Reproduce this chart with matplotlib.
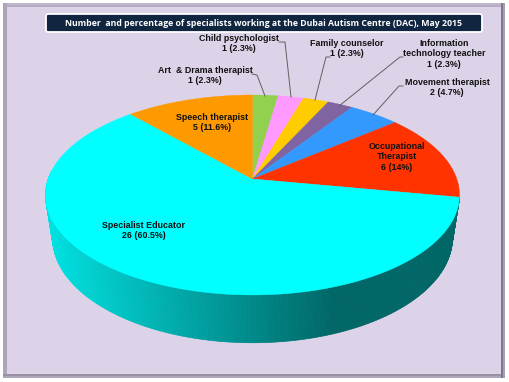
import numpy as np
import matplotlib
matplotlib.use('Agg')
import matplotlib.pyplot as plt
from matplotlib.patches import Rectangle, FancyBboxPatch

title = 'Number  and percentage of specialists working at the Dubai Autism Centre (DAC), May 2015'
names = ['Art  & Drama therapist', 'Child psychologist', 'Family counselor',
         'Information\ntechnology teacher', 'Movement therapist',
         'Occupational\nTherapist', 'Specialist Educator', 'Speech therapist']
counts = [1, 1, 1, 1, 2, 6, 26, 5]
percents = ['2.3%', '2.3%', '2.3%', '2.3%', '4.7%', '14%', '60.5%', '11.6%']
colors = ['#92D050', '#FF99FF', '#FFCC00', '#8064A2', '#3399FF', '#FF3300', '#00FFFF', '#FF9900']

label_pos = [(205, 71), (239, 39), (347, 44), (444, 44), (447, 83), (397, 147), (144, 226), (212, 118)]
leaders = [[(252, 74), (257, 75), (265, 96)],
           [(279, 42), (285, 42), (291, 97)],
           [(330, 57), (326, 57), (315, 100)],
           [(403, 57), (400, 57), (339, 106)],
           [(403, 86), (399, 86), (373, 115)]]

# pie seen in perspective, so the centre sits above the middle of the ellipse
cx, cy = 252.5, 179
a, b, k = 204.3, 97.4, 0.16


def top_xy(t):
    x, y = np.sin(t), np.cos(t)
    w = 1 + k * y
    return cx + a * x / w, cy - b * y / w


def bottom_xy(t):
    x, y = top_xy(t)
    return cx + 0.966 * (x - cx), 221 + 1.05 * (y - cy)


def side_color(x):
    f = np.clip((x - 45) / (333 - 45), 0, 1)
    g = (226 + (102 - 226) * f) / 255
    return (0, g, g)


fig = plt.figure(figsize=(5.09, 3.82), dpi=100)
ax = fig.add_axes([0, 0, 1, 1])
ax.set_xlim(0, 509)
ax.set_ylim(382, 0)
ax.axis('off')

# frame
ax.add_patch(Rectangle((3, 3), 502, 2, fc='#C0B8CA', ec='none', zorder=0))
ax.add_patch(Rectangle((3, 5), 502, 2, fc='#B5ABC2', ec='none', zorder=0))
ax.add_patch(Rectangle((3, 3), 4, 375, fc='#ADA4B9', ec='none', zorder=0))
ax.add_patch(Rectangle((3, 376), 502, 2, fc='#B0A8BA', ec='none', zorder=0))
ax.add_patch(Rectangle((3, 374), 502, 2, fc='#9A92A4', ec='none', zorder=0))
ax.add_patch(Rectangle((503, 3), 2, 375, fc='#A8A0B2', ec='none', zorder=0))
ax.add_patch(Rectangle((501, 3), 2, 375, fc='#7F7789', ec='none', zorder=0))
ax.add_patch(Rectangle((7, 7), 494, 367, fc='#DDD3E9', ec='none', zorder=0))

edges = np.radians(np.concatenate([[0], np.cumsum(counts)]) / np.sum(counts) * 360)

# side of the big slice
t0, t1 = edges[5 + 1], np.radians(275)
ts = np.linspace(t0, t1, 300)
for i in range(len(ts) - 1):
    tx0, ty0 = top_xy(ts[i])
    tx1, ty1 = top_xy(ts[i + 1])
    bx0, by0 = bottom_xy(ts[i])
    bx1, by1 = bottom_xy(ts[i + 1])
    c = side_color((tx0 + tx1) / 2)
    ax.fill([tx0, tx1, bx1, bx0], [ty0, ty1, by1, by0], color=c, lw=0.5, zorder=1)

# top of the pie
for i in range(len(counts)):
    ts = np.linspace(edges[i], edges[i + 1], 120)
    xs, ys = top_xy(ts)
    ax.fill(np.r_[cx, xs], np.r_[cy, ys], color=colors[i], lw=0.3, zorder=2)

for line in leaders:
    pts = np.array(line)
    ax.plot(pts[:, 0], pts[:, 1], color='#606060', lw=0.7, zorder=3)

for name, n, p, pos in zip(names, counts, percents, label_pos):
    ax.text(pos[0], pos[1] - 5, '%s\n%d (%s)' % (name, n, p), ha='center', va='top',
            family='Liberation Sans', fontweight='bold', fontsize=6.4,
            linespacing=1.2, color='#111111', zorder=4)

# title box
ax.add_patch(FancyBboxPatch((47, 15), 434, 16, boxstyle='round,pad=1,rounding_size=2',
                            fc='#10253F', ec='white', lw=1.3, zorder=3))
ax.text(263.5, 23.5, title, ha='center', va='center', color='white',
        family='Open Sans', fontweight='bold', fontsize=6.27, zorder=4)

fig.savefig('out.png', dpi=100)
